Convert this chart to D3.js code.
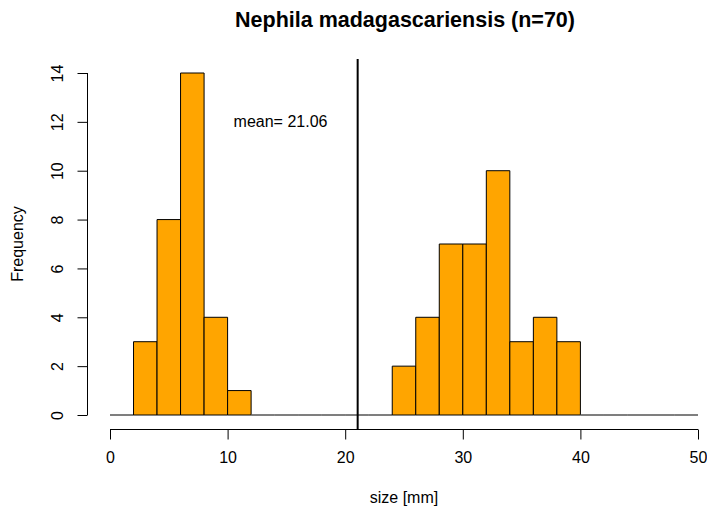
<!DOCTYPE html>
<html>
<head>
<meta charset="utf-8">
<script src="https://cdn.jsdelivr.net/npm/d3@7"></script>
<style>
  body { margin: 0; background: #fff; }
  text { font-family: "Liberation Sans", Arial, sans-serif; fill: #000; }
</style>
</head>
<body>
<svg id="chart" width="707" height="511"></svg>
<script>
// bin edges (width 2) and counts per bin
var binStarts = d3.range(0, 50, 2);
var counts = [0, 3, 8, 14, 4, 1, 0, 0, 0, 0, 0, 0, 2, 4, 7, 7, 10, 3, 4, 3, 0, 0, 0, 0, 0];
var meanValue = 21.06;
var xTicks = [0, 10, 20, 30, 40, 50];
var yTicks = [0, 2, 4, 6, 8, 10, 12, 14];

var svg = d3.select('#chart');

var xScale = d3.scaleLinear().domain([0, 50]).range([110, 698]);
var yScale = d3.scaleLinear().domain([0, 14]).range([415, 73]);

var bins = binStarts.map(function(d, i) {
    return {x0: d, x1: d + 2, n: counts[i]};
});

// bars drawn as closed paths so empty bins still show as a flat line
svg.append('g').selectAll('path')
    .data(bins)
    .enter().append('path')
    .attr('d', function(d) {
        var x0 = xScale(d.x0), x1 = xScale(d.x1),
            y0 = yScale(0), y1 = yScale(d.n);
        return 'M' + x0 + ',' + y0 + 'H' + x1 + 'V' + y1 + 'H' + x0 + 'Z';
    })
    .attr('fill', '#FFA500')
    .attr('stroke', function(d) { return d.n ? '#000' : '#555'; })
    .attr('stroke-width', 1);

// x axis
var xAxis = d3.axisBottom(xScale).tickValues(xTicks).tickSize(10).tickPadding(12);
var xg = svg.append('g').attr('transform', 'translate(0,429.5)').call(xAxis);
xg.select('.domain').attr('d', 'M' + xScale(0) + ',0H' + xScale(50)).attr('stroke', '#000');
xg.selectAll('text').style('font-size', '16px').attr('fill', '#000');

// y axis
var yAxis = d3.axisLeft(yScale).tickValues(yTicks).tickSize(10);
var yg = svg.append('g').attr('transform', 'translate(87.5,0)').call(yAxis);
yg.select('.domain').attr('d', 'M0,' + yScale(0) + 'V' + yScale(14)).attr('stroke', '#000');
yg.selectAll('.tick text')
    .style('font-size', '16px')
    .attr('fill', '#000')
    .attr('text-anchor', 'middle')
    .attr('x', 0)
    .attr('dy', 0)
    .attr('transform', 'translate(-31,0) rotate(-90)')
    .attr('y', 6);

// mean line
svg.append('line')
    .attr('x1', xScale(meanValue)).attr('x2', xScale(meanValue))
    .attr('y1', 59).attr('y2', 430)
    .attr('stroke', '#000').attr('stroke-width', 2);

svg.append('text')
    .attr('x', xScale(14.5)).attr('y', yScale(12))
    .attr('dy', '0.35em')
    .attr('text-anchor', 'middle')
    .style('font-size', '16px')
    .text('mean= ' + meanValue.toFixed(2));

// titles
svg.append('text')
    .attr('x', 405).attr('y', 27)
    .attr('text-anchor', 'middle')
    .style('font-size', '21.5px').style('font-weight', 'bold')
    .text('Nephila madagascariensis (n=70)');

svg.append('text')
    .attr('x', 404).attr('y', 503)
    .attr('text-anchor', 'middle')
    .style('font-size', '16px')
    .text('size [mm]');

svg.append('text')
    .attr('transform', 'translate(23,244) rotate(-90)')
    .attr('text-anchor', 'middle')
    .style('font-size', '16px')
    .text('Frequency');
</script>
</body>
</html>
